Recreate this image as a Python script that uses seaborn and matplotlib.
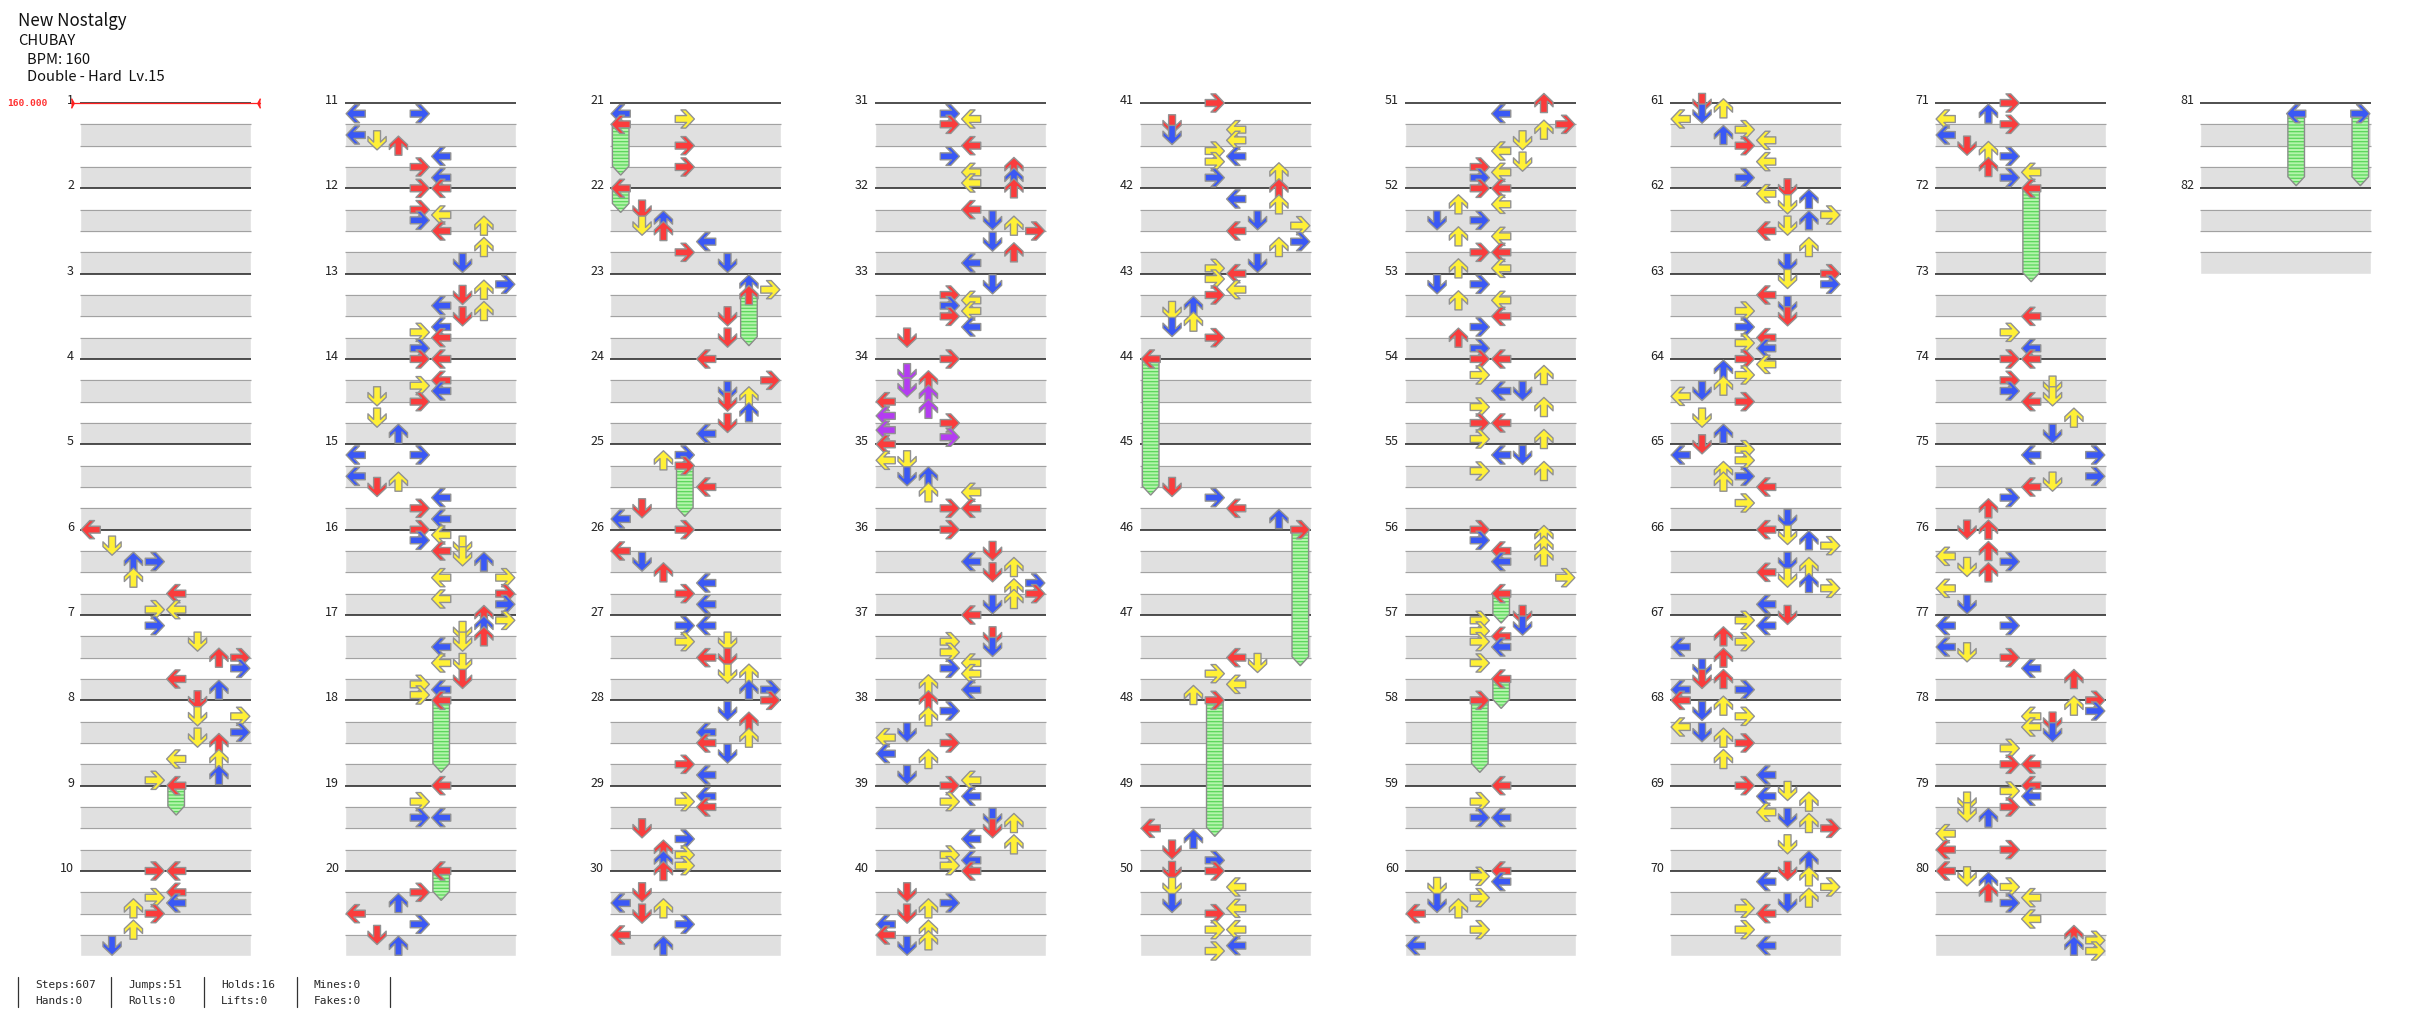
import numpy as np
import pandas as pd
import seaborn as sns
import matplotlib
matplotlib.use('Agg')
import matplotlib.pyplot as plt
from matplotlib.path import Path
from matplotlib.lines import Line2D

# 曲の情報
title = 'New Nostalgy'
artist = 'CHUBAY'
bpm_text = 'BPM: 160'
chart_text = 'Double - Hard  Lv.15'
bpm_marker = '160.000'
stats_top = ['Steps:607', 'Jumps:51', 'Holds:16', 'Mines:0']
stats_bottom = ['Hands:0', 'Rolls:0', 'Lifts:0', 'Fakes:0']

# ノーツ: 1小節ごとに "位置:レーン"  位置は16分単位, tN は12分単位
# レーン 0-3 = 1P 左下上右, 4-7 = 2P 左下上右
notes_01_10 = [
    '', '', '', '', '',
    '0:0 3:1 6:2 6:3 9:2 12:4 15:3 15:4',
    '2:3 5:5 8:6 8:7 10:7 12:4 14:6',
    '0:5 3:5 3:7 6:7 7:5 8:6 11:6 11:4 14:6 15:3',
    '0:4',
    '0:3 0:4 4:4 5:3 6:4 7:2 8:3 11:2 14:1',
]
notes_11_20 = [
    '2:0 2:3 6:0 7:1 8:2 10:4 12:3 14:4',
    '0:3 0:4 4:3 5:4 6:3 7:6 8:4 11:6 14:5',
    '2:7 3:6 4:5 6:4 7:6 8:5 10:4 11:3 12:4 14:3',
    '0:3 0:4 4:4 5:3 6:4 7:1 8:3 11:1 14:2',
    '2:0 2:3 6:0 7:2 8:1 10:4 12:3 14:4',
    '0:3 1:4 2:3 3:5 4:4 5:5 6:6 9:4 9:7 12:7 13:4 14:7',
    '0:6 1:7 2:6 3:5 4:6 5:5 6:4 9:4 9:5 12:5 13:3 14:4 15:3',
    '0:4',
    '0:4 3:3 6:3 6:4',
    '0:4 4:3 6:2 8:0 10:3 12:1 14:2',
]
notes_21_30 = [
    '2:0 3:3 4:0 8:3 12:3',
    '0:0 4:1 6:2 7:1 8:2 10:4 12:3 14:5',
    '2:6 3:7 4:6 8:5 12:5',
    '0:4 4:7 6:5 7:6 8:5 10:6 12:5 14:4',
    '2:3 3:2 4:3 8:4 12:1 14:0',
    '0:3 4:0 6:1 8:2 10:4 12:3 14:4',
    '2:3 2:4 5:3 5:5 8:4 8:5 11:5 11:6 14:6 14:7',
    '0:7 2:5 4:6 6:4 7:6 8:4 10:5 12:3 14:4',
    '2:4 3:3 4:4 8:1 10:3 12:2 13:3 14:2 15:3',
    '0:2 4:1 6:0 7:2 8:1 10:3 12:0 14:2',
]
notes_31_40 = [
    '2:3 3:4 4:3 8:4 10:3 12:6 13:4 14:6 15:4',
    '0:6 4:4 6:5 7:6 8:7 10:5 12:6 14:4',
    '2:5 4:3 5:4 6:3 7:4 8:3 10:4 12:1',
    '0:3 t2:1 4:2 t4:1 t5:2 8:0 t7:2 t8:0 12:3 t10:0 t11:3',
    '0:0 3:0 3:1 6:1 6:2 9:2 9:4 12:3 12:4',
    '0:3 4:5 6:4 7:6 8:5 10:7 11:6 12:7 13:6 14:5',
    '0:4 4:5 5:3 6:5 7:3 9:4 10:3 11:4 13:2 14:4',
    '0:2 2:3 3:2 6:1 7:0 8:3 10:0 11:2 14:1 15:4',
    '0:3 2:4 3:3 6:5 7:6 8:5 10:4 11:6 13:3 14:4 15:3',
    '0:4 4:1 6:3 7:2 8:1 10:0 11:2 12:0 13:2 14:1',
]
notes_41_50 = [
    '0:3 4:1 5:4 6:1 7:4 9:3 10:4 11:3 13:6 14:3',
    '0:6 2:4 3:6 6:5 7:7 8:4 10:7 11:6 14:5 15:3',
    '0:4 1:3 3:4 4:3 6:2 7:1 9:2 10:1 12:3',
    '0:0',
    '8:1 10:3 12:4 14:6',
    '0:7',
    '8:4 9:5 11:3 13:4 15:2',
    '0:3',
    '8:0 10:2 12:1 14:3',
    '0:1 0:3 3:1 3:4 6:1 7:4 8:3 11:3 11:4 14:4 15:3',
]
notes_51_60 = [
    '0:6 2:4 4:7 5:6 7:5 9:4 11:5 12:3 13:4 14:3',
    '0:3 0:4 3:2 3:4 6:1 6:3 9:2 9:4 12:3 12:4 15:2 15:4',
    '2:1 2:3 5:2 5:4 8:4 10:3 12:2 14:3',
    '0:3 0:4 3:3 3:6 6:4 6:5 9:3 9:6 12:3 12:4 15:3 15:6',
    '2:4 2:5 5:3 5:6',
    '0:3 1:6 2:3 3:6 4:4 5:6 6:4 9:7 12:4',
    '0:5 1:3 2:5 3:3 4:4 5:3 6:4 9:3 12:4',
    '0:3',
    '0:4 3:3 6:3 6:4',
    '0:4 1:3 2:4 3:1 5:3 6:1 7:2 8:0 11:3 14:0',
]
notes_61_70 = [
    '0:1 1:2 2:1 3:0 5:3 6:2 7:4 8:3 11:4 14:3',
    '0:5 1:4 2:6 3:5 5:7 6:6 7:5 8:4 11:6 14:5',
    '0:7 1:5 2:7 4:4 6:5 7:3 8:5 10:3 12:4 13:3 14:4',
    '0:3 1:4 2:2 3:3 5:2 6:1 7:0 8:3 11:1 14:2',
    '0:1 1:3 2:0 3:3 5:2 6:3 7:2 8:4 11:3 14:5',
    '0:4 1:5 2:6 3:7 6:5 7:6 8:4 9:5 10:6 11:7 14:4',
    '0:5 1:3 2:4 4:2 5:3 6:0 8:2 10:1 12:1 12:2 14:0 14:3',
    '0:0 1:2 2:1 3:3 5:0 6:1 7:2 8:3 11:2 14:4',
    '0:3 1:5 2:4 3:6 5:4 6:5 7:6 8:7 11:5 14:6',
    '0:5 1:6 2:4 3:7 5:6 6:5 7:3 8:4 11:3 14:4',
]
notes_71_80 = [
    '0:3 2:2 3:0 4:3 6:0 8:1 9:2 10:3 12:2 13:4 14:3',
    '0:4',
    '8:4 11:3 14:4',
    '0:3 0:4 4:3 5:5 6:3 7:5 8:4 11:6 14:5',
    '2:4 2:7 6:7 7:5 8:4 10:3 12:2',
    '0:1 0:2 4:2 5:0 6:3 7:1 8:2 11:0 14:1',
    '2:0 2:3 6:0 7:1 8:3 10:4 12:6',
    '0:7 1:6 2:7 3:4 4:5 5:4 6:5 9:3 12:3 12:4',
    '0:4 1:3 2:4 3:1 4:3 5:1 6:2 9:0 12:0 12:3',
    '0:0 1:1 2:2 3:3 4:2 5:4 6:3 9:4 12:6 13:7 14:6 15:7',
]
notes_81_82 = ['2:4 2:7', '']

# ホールド: 開始小節, 開始位置(16分), レーン, 長さ(16分)
hold_measure = [9, 18, 20, 21, 22, 23, 25, 44, 46, 48, 56, 57, 58, 72, 81, 81]
hold_pos = [0, 0, 0, 4, 0, 4, 4, 0, 0, 0, 12, 12, 0, 0, 2, 2]
hold_lane = [4, 4, 4, 0, 0, 6, 3, 0, 7, 3, 4, 4, 3, 4, 4, 7]
hold_len = [6, 14, 6, 10, 5, 10, 10, 26, 26, 26, 6, 6, 14, 18, 14, 14]

measures = (notes_01_10 + notes_11_20 + notes_21_30 + notes_31_40 + notes_41_50
            + notes_51_60 + notes_61_70 + notes_71_80 + notes_81_82)

# レイアウト(ピクセル)
W, H = 2436, 1024
LANE_PX = 21.375
BEAT_PX = 21.333
COL_PX = 265
LEFT_PX = 80
TOP_PX = 103
COL = COL_PX / LANE_PX
PER_COL = 10

def place(m, beat, lane):
    c = (m - 1) // PER_COL
    r = (m - 1) % PER_COL
    return c * COL + lane + 0.5, r * 4 + beat

dirs = ['L', 'D', 'U', 'R']
rows = []
for m, spec in enumerate(measures, start=1):
    for tok in spec.split():
        p, lane = tok.split(':')
        lane = int(lane)
        if p.startswith('t'):
            k = int(p[1:])
            beat = k / 3
            q = 'q4' if k % 3 == 0 else 'q12'
        else:
            k = int(p)
            beat = k / 4
            q = 'q4' if k % 4 == 0 else ('q8' if k % 2 == 0 else 'q16')
        x, y = place(m, beat, lane)
        rows.append(dict(m=m, t=beat, x=x, y=y, quant=q, dir=dirs[lane % 4]))
df = pd.DataFrame(rows).sort_values(['m', 't'], kind='stable')

# 矢印の形
base = np.array([(-1, 0), (-0.1, 0.95), (0.4, 0.95), (-0.18, 0.36), (1, 0.36),
                 (1, -0.36), (-0.18, -0.36), (0.4, -0.95), (-0.1, -0.95), (-1, 0)])
def arrow(rot):
    a = np.deg2rad(rot)
    R = np.array([[np.cos(a), -np.sin(a)], [np.sin(a), np.cos(a)]])
    v = base @ R.T
    codes = [Path.MOVETO] + [Path.LINETO] * (len(v) - 2) + [Path.CLOSEPOLY]
    return Path(v, codes)
markers = {'L': arrow(0), 'D': arrow(90), 'U': arrow(-90), 'R': arrow(180)}
palette = {'q4': '#fa3c3c', 'q8': '#3a58f5', 'q16': '#fff036', 'q12': '#b43cf2'}

sns.set_style('white')
plt.rcParams['font.family'] = ['Noto Sans CJK JP', 'DejaVu Sans']
plt.rcParams['hatch.linewidth'] = 0.9

fig = plt.figure(figsize=(W / 100, H / 100), dpi=100)
ax = fig.add_axes([0, 0, 1, 1])
x_left = -LEFT_PX / LANE_PX
y_top = -TOP_PX / BEAT_PX

# 譜面の枠
n_measures = len(measures)
for c in range((n_measures - 1) // PER_COL + 1):
    x0 = c * COL
    count = min(PER_COL, n_measures - c * PER_COL)
    for r in range(count):
        y0 = r * 4
        ax.broken_barh([(x0, 8)], (y0 + 1, 1), facecolors='#e0e0e0', zorder=1)
        ax.broken_barh([(x0, 8)], (y0 + 3, 1), facecolors='#e0e0e0', zorder=1)
        ax.hlines([y0 + 1, y0 + 2, y0 + 3], x0, x0 + 8, colors='#a2a2a2', lw=0.9, zorder=1.2)
        ax.hlines(y0, x0, x0 + 8, colors='#1e1e1e', lw=1.1, zorder=1.3)
        ax.text(x0 - 6 / LANE_PX, y0 + 0.04, str(c * PER_COL + r + 1), ha='right',
                va='baseline', fontsize=9, color='#222222')

# ホールド
hw = 8.3 / LANE_PX
th = 9 / BEAT_PX
for m, p, lane, ln in zip(hold_measure, hold_pos, hold_lane, hold_len):
    xc, y0 = place(m, p / 4, lane)
    y1 = y0 + ln / 4 - 0.12
    px = [xc - hw, xc + hw, xc + hw, xc, xc - hw]
    py = [y0, y0, y1 - th, y1, y1 - th]
    ax.fill(px, py, facecolor='#b4f4ac', edgecolor='#5ad65a', lw=0, hatch='-----', zorder=2)
    ax.fill(px, py, facecolor='none', edgecolor='#8c8c8c', lw=1.0, zorder=2.1)

sns.scatterplot(data=df, x='x', y='y', hue='quant', style='dir', palette=palette,
                markers=markers, s=190, edgecolor='#929292', linewidth=1.0,
                legend=False, ax=ax, zorder=3)

# BPM表示
bx0, by = x_left + 71 / LANE_PX, 0
bx1 = x_left + 260 / LANE_PX
ax.plot([bx0, bx1], [by, by], color='#ff2020', lw=0.9, zorder=4)
ax.plot([bx0], [by], marker=[(0, -1), (0.55, 0), (0, 1)], ms=7, color='#ff2020', zorder=4)
ax.plot([bx1], [by], marker=[(0, -1), (-0.55, 0), (0, 1)], ms=7, color='#ff2020', zorder=4)
ax.text(x_left + 7 / LANE_PX, by, bpm_marker, ha='left', va='center', color='#ff3030',
        fontsize=6.8, family='DejaVu Sans Mono', fontweight='bold')

ax.set_xlim(x_left, x_left + W / LANE_PX)
ax.set_ylim(y_top + H / BEAT_PX, y_top)
ax.set_axis_off()

# 見出し
def fx(px):
    return px / W
def fy(py):
    return 1 - py / H
fig.text(fx(18), fy(26.5), title, fontsize=12.2, va='baseline', color='#111111')
fig.text(fx(18), fy(45), artist, fontsize=10.6, va='baseline', color='#111111')
fig.text(fx(27), fy(63.5), bpm_text, fontsize=10.6, va='baseline', color='#111111')
fig.text(fx(27), fy(81), chart_text, fontsize=10.6, va='baseline', color='#111111')

# 集計
for i, (a, b) in enumerate(zip(stats_top, stats_bottom)):
    xs = 18 + 93 * i
    fig.text(fx(xs + 17), fy(988.5), a, fontsize=8, family='DejaVu Sans Mono', va='baseline')
    fig.text(fx(xs + 17), fy(1004), b, fontsize=8, family='DejaVu Sans Mono', va='baseline')
for i in range(5):
    xs = 18 + 93 * i
    fig.add_artist(Line2D([fx(xs), fx(xs)], [fy(977), fy(1007)], color='#333333', lw=0.9))

fig.savefig('out.png', dpi=100, facecolor='white')
